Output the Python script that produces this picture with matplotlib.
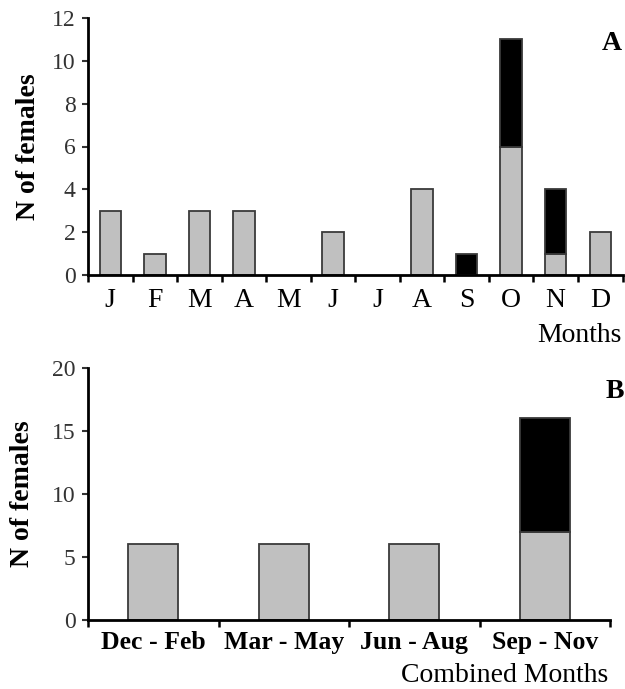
import matplotlib
matplotlib.use("Agg")
import matplotlib.pyplot as plt
import numpy as np

months = ["J", "F", "M", "A", "M", "J", "J", "A", "S", "O", "N", "D"]
gray_a = [3, 1, 3, 3, 0, 2, 0, 4, 0, 6, 1, 2]
black_a = [0, 0, 0, 0, 0, 0, 0, 0, 1, 5, 3, 0]

seasons = ["Dec - Feb", "Mar - May", "Jun - Aug", "Sep - Nov"]
gray_b = [6, 6, 6, 7]
black_b = [0, 0, 0, 9]

plt.rcParams['font.family'] = ['Liberation Serif', 'DejaVu Serif']

fig = plt.figure(figsize=(6.25, 6.89), dpi=100)
GRAY = "#c0c0c0"
EDGE = "#3a3a3a"

def style(ax, n):
    for s in ["top", "right"]:
        ax.spines[s].set_visible(False)
    for s in ["left", "bottom"]:
        ax.spines[s].set_linewidth(2.0)
    ax.set_xlim(-0.5, n - 0.5)
    ax.set_xticks(np.arange(n + 1) - 0.5, minor=False)
    ax.set_xticklabels([])
    ax.set_xticks(np.arange(n), minor=True)
    ax.tick_params(axis='x', which='major', direction='out', length=5, width=1.8)
    ax.tick_params(axis='x', which='minor', length=0)
    ax.tick_params(axis='y', direction='out', length=4, width=1.5, labelsize=17, pad=5, colors='#333333')

# Panel A
axA = fig.add_axes([88/625, 1 - 275/689, 537/625 - 0.004, (275 - 18)/689])
xa = np.arange(len(months))
axA.bar(xa, [g if g > 0 else np.nan for g in gray_a], width=0.48, color=GRAY, edgecolor=EDGE, linewidth=1.3)
axA.bar(xa, [b if b > 0 else np.nan for b in black_a], width=0.48, bottom=gray_a, color="black", edgecolor=EDGE, linewidth=1.3)
style(axA, len(months))
axA.set_ylim(0, 12)
axA.set_yticks(range(0, 13, 2))
axA.set_xticklabels(months, minor=True, fontsize=20)
axA.tick_params(axis='x', which='minor', pad=9)
axA.set_ylabel("N of females", fontsize=20, fontweight='bold', labelpad=8)
fig.text(622/625, 1 - 43/689, "A", fontsize=20, fontweight='bold', ha='right', va='center')
fig.text(622/625, 1 - 335/689, "Months", fontsize=20, ha='right', va='center')

# Panel B
axB = fig.add_axes([88/625, 1 - 620/689, (610 - 88)/625, (620 - 368)/689])
xb = np.arange(len(seasons))
axB.bar(xb, gray_b, width=0.38, color=GRAY, edgecolor=EDGE, linewidth=1.3)
axB.bar(xb, [b if b > 0 else np.nan for b in black_b], width=0.38, bottom=gray_b, color="black", edgecolor=EDGE, linewidth=1.3)
style(axB, len(seasons))
axB.set_ylim(0, 20)
axB.set_yticks(range(0, 21, 5))
axB.set_xticklabels(seasons, minor=True, fontsize=18.5, fontweight='bold')
axB.tick_params(axis='x', which='minor', pad=8)
axB.set_ylabel("N of females", fontsize=20, fontweight='bold', labelpad=12)
fig.text(624/625, 1 - 392/689, "B", fontsize=20, fontweight='bold', ha='right', va='center')
fig.text(608/625, 1 - 675/689, "Combined Months", fontsize=20, ha='right', va='center')

fig.savefig("out.png", dpi=100)
